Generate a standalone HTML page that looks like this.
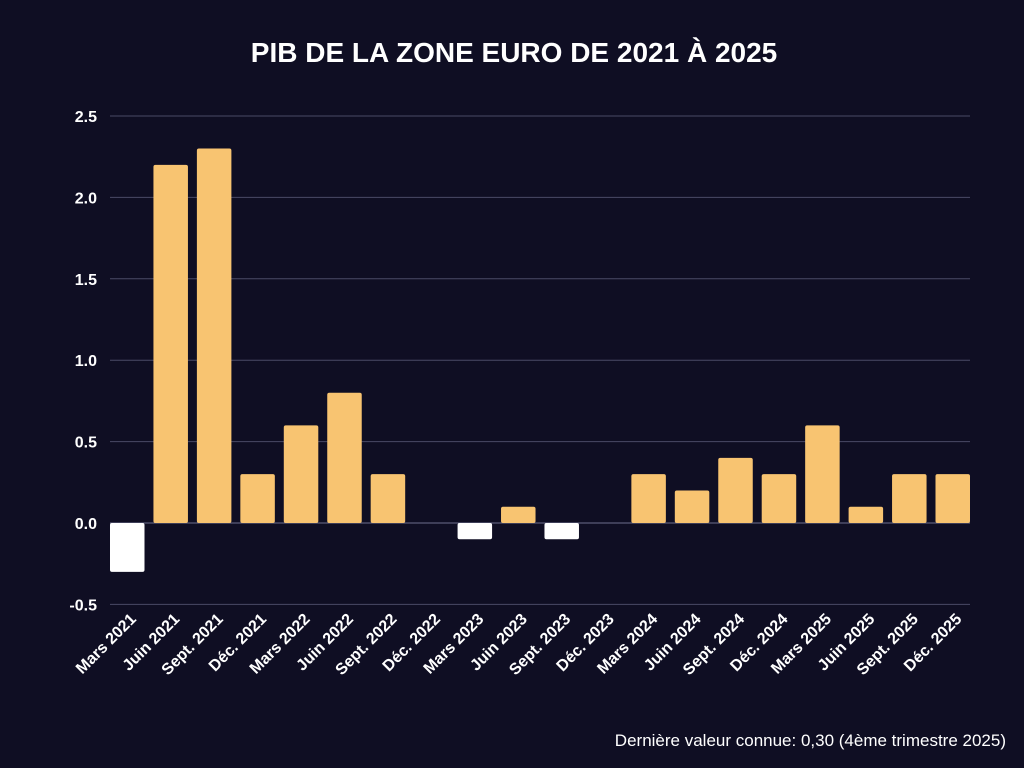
<!DOCTYPE html>
<html><head><meta charset="utf-8"><style>
body{margin:0;background:#0f0e23;}
svg{display:block;font-family:"Liberation Sans",sans-serif;}
</style></head><body>
<svg width="1024" height="768" id="c">
<rect width="1024" height="768" fill="#0f0e23"/>
<text x="514" y="62" text-anchor="middle" fill="#fff" font-size="28" font-weight="bold">PIB DE LA ZONE EURO DE 2021 À 2025</text>
<g id="grid"></g><g id="bars"></g><g id="xl"></g>
<text x="1006" y="746" text-anchor="end" fill="#fff" font-size="17">Dernière valeur connue: 0,30 (4ème trimestre 2025)</text>
</svg>
<script>
const categories=["Mars 2021","Juin 2021","Sept. 2021","Déc. 2021","Mars 2022","Juin 2022","Sept. 2022","Déc. 2022","Mars 2023","Juin 2023","Sept. 2023","Déc. 2023","Mars 2024","Juin 2024","Sept. 2024","Déc. 2024","Mars 2025","Juin 2025","Sept. 2025","Déc. 2025"];
const values=[-0.3,2.2,2.3,0.3,0.6,0.8,0.3,0,-0.1,0.1,-0.1,0,0.3,0.2,0.4,0.3,0.6,0.1,0.3,0.3];
const yTicks=[-0.5,0,0.5,1,1.5,2,2.5];
const yTickLabels=["-0.5","0.0","0.5","1.0","1.5","2.0","2.5"];
const NS="http://www.w3.org/2000/svg";
const y=v=>523-v*162.8;
function mk(t,a,p){const e=document.createElementNS(NS,t);for(const k in a)e.setAttribute(k,a[k]);p.appendChild(e);return e;}
const g=document.getElementById('grid'),b=document.getElementById('bars'),xl=document.getElementById('xl');
yTicks.forEach((v,i)=>{
 const l=mk('line',{x1:110,x2:970,y1:y(v),y2:y(v),stroke:v===0?'#6e6e8c':'#4a4a66','stroke-width':1},g);
 
 
 const t=mk('text',{x:97,y:y(v)+6,'text-anchor':'end',fill:'#fff','font-size':16,'font-weight':'bold'},g);
 t.textContent=yTickLabels[i];
 
 
});
const bs=(970-34.5-110)/(categories.length-1);
values.forEach((v,i)=>{
 const bx=110+i*bs;
 const top=Math.min(y(v),y(0)),h=Math.abs(y(v)-y(0));
 if(h>0){const r=mk('rect',{x:bx,y:top,width:34.5,height:h,rx:2,fill:v<0?'#ffffff':'#f8c471'},b);
 
 }
 const cx=bx+17+10,cy=620;
 const t=mk('text',{x:cx,y:cy,'text-anchor':'end',fill:'#fff','font-size':16,'font-weight':'bold',transform:`rotate(-45 ${cx} ${cy})`},xl);
 t.textContent=categories[i];
 
 
});
</script>
</body></html>
